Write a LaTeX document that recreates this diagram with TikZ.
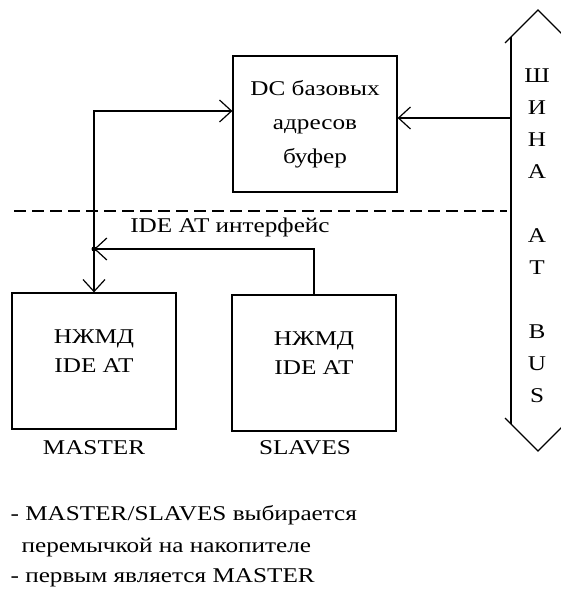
\documentclass[tikz,border=0pt]{standalone}
\usepackage{fontspec}
\setmainfont{Liberation Serif}[FakeStretch=1.2]
\usetikzlibrary{arrows.meta,positioning}

\begin{document}
\begin{tikzpicture}[x=1pt,y=-1pt,line width=1.2pt,
    every node/.style={font=\fontsize{21}{32}\selectfont,inner sep=2pt},
    block/.style={draw,minimum width=164pt,minimum height=136pt,align=center},
    blocktext/.style={align=center,font=\fontsize{21}{29}\selectfont},
    barb/.style={-{Straight Barb[length=12pt,width=22pt]}},
    twobarb/.style={{Straight Barb[length=12pt,width=22pt]}-{Straight Barb[length=12pt,width=22pt]}},
    sep/.style={dash pattern=on 12pt off 6pt}]

          \useasboundingbox (0,0) rectangle (560,596);

          % blocks
          \node[block,font=\fontsize{21}{34}\selectfont] (dc) at (315,124) {DC базовых\\адресов\\буфер};
          \node[block] (master) at (94,361) {};
          \node[block] (slave)  at (314,363) {};
          \node[blocktext] at ([yshift=10pt]master.center) {НЖМД\\IDE AT};
          \node[blocktext] at ([yshift=10pt]slave.center)  {НЖМД\\IDE AT};
          \node (masterlbl) at (94,448)  {MASTER};
          \node (slavelbl)  at (305,448) {SLAVES};

          % bus
          \draw (505,43) -- (538,10) -- (571,43);
          \draw (505,418) -- (538,451) -- (571,418);
          \draw (511,37) -- (511,424);
          \draw (565,37) -- (565,424);
          \node[align=center] (buslbl) at (537,236) {Ш\\И\\Н\\А\\ \\А\\Т\\ \\B\\U\\S};

          % interface
          \draw[sep] (14,211) -- (507,211);
          \node (ifacelbl) at (230,227) {IDE AT интерфейс};

          \coordinate (busin) at (511,118);
          \coordinate (dcin)  at ([yshift=13pt]dc.west);
          \coordinate (joint) at (master.north |- 0,249);

          \draw[barb] (busin) -- (busin -| dc.east);
          \draw[twobarb] (master.north) |- (dcin);
          \draw[barb] (slave.north) |- (joint);
          \fill (joint) circle (2.5pt);

          % notes
          \node[anchor=west] (note1) at (8,515) {- MASTER/SLAVES выбирается};
          \node[anchor=west] (note2) at (19,548) {перемычкой на накопителе};
          \node[anchor=west] (note3) at (8,578) {- первым является MASTER};

        \end{tikzpicture}
\end{document}
